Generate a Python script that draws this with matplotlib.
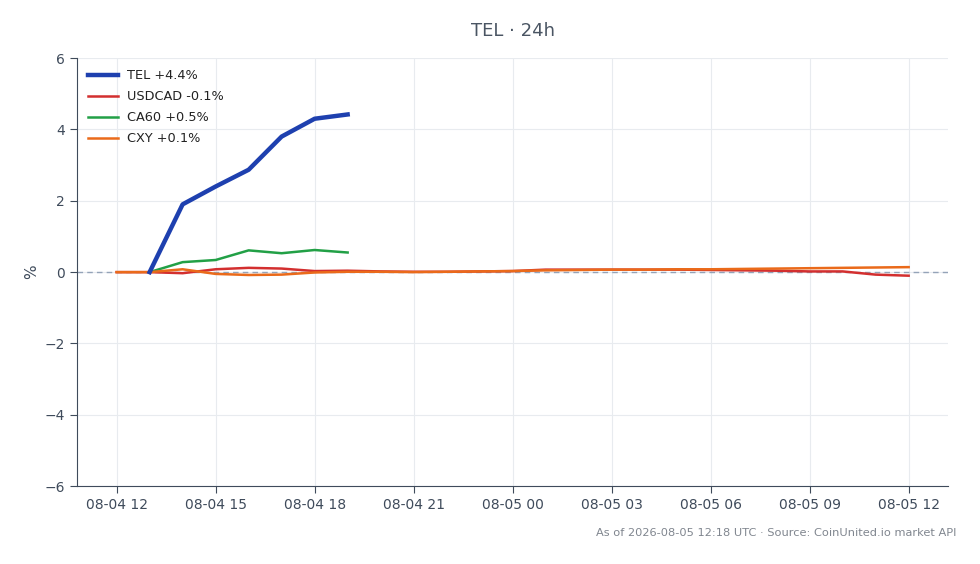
import numpy as np
import pandas as pd
import matplotlib
matplotlib.use('Agg')
import matplotlib.pyplot as plt
import matplotlib.dates as mdates

# hourly timestamps
hours = pd.date_range('2026-08-04 12:00', '2026-08-05 12:00', freq='h')
tel_hours = pd.date_range('2026-08-04 13:00', '2026-08-04 19:00', freq='h')

tel = [0.0, 1.9, 2.4, 2.87, 3.8, 4.3, 4.42]
ca60 = [0.0, 0.28, 0.34, 0.61, 0.53, 0.62, 0.55]
usdcad = [0.0, 0.0, -0.03, 0.08, 0.12, 0.10, 0.03, 0.04, 0.02, 0.01, 0.01, 0.02,
          0.03, 0.07, 0.07, 0.07, 0.07, 0.07, 0.06, 0.05, 0.04, 0.02, 0.02, -0.07, -0.10]
cxy = [0.0, 0.0, 0.08, -0.05, -0.08, -0.07, -0.01, 0.01, 0.01, 0.0, 0.01, 0.02,
       0.03, 0.05, 0.06, 0.07, 0.07, 0.08, 0.08, 0.09, 0.10, 0.11, 0.12, 0.13, 0.14]

labels = ['TEL +4.4%', 'USDCAD -0.1%', 'CA60 +0.5%', 'CXY +0.1%']
text_col = '#3f4b5b'

fig = plt.figure(figsize=(9.8, 5.64), dpi=100)
ax = fig.add_axes([0.0786, 0.138, 0.889, 0.759])

ax.axhline(0, color='#94a3b8', lw=1, ls='--', dashes=(4, 3), zorder=1)
ax.plot(tel_hours, tel, color='#1e40af', lw=3.2, label=labels[0], zorder=5)
ax.plot(hours, usdcad, color='#d32f2f', lw=1.8, label=labels[1], zorder=3)
ax.plot(tel_hours, ca60, color='#22a046', lw=1.8, label=labels[2], zorder=3)
ax.plot(hours, cxy, color='#ea6a1a', lw=1.8, label=labels[3], zorder=4)

ax.set_ylim(-6, 6)
ax.set_yticks([-6, -4, -2, 0, 2, 4, 6])
ax.set_yticklabels(['\u22126', '\u22124', '\u22122', '0', '2', '4', '6'])
ax.xaxis.set_major_locator(mdates.HourLocator(byhour=range(0, 24, 3)))
ax.xaxis.set_major_formatter(mdates.DateFormatter('%m-%d %H'))

ax.grid(True, color='#e8ebef', lw=0.8)
ax.set_axisbelow(True)
for s in ['top', 'right']:
    ax.spines[s].set_visible(False)
for s in ['left', 'bottom']:
    ax.spines[s].set_color('#3f4b5b')
ax.tick_params(colors=text_col, labelsize=10, length=5)
ax.set_ylabel('%', color=text_col, fontsize=11)

ax.legend(loc='upper left', frameon=False, fontsize=9.3, handlelength=2.3,
          handletextpad=0.7, labelcolor='#222222', borderaxespad=0.45,
          labelspacing=0.63)

fig.text(0.523, 0.945, 'TEL \u00b7 24h', ha='center', va='center', fontsize=13, color='#4a5563')
fig.text(0.976, 0.055, 'As of 2026-08-05 12:18 UTC \u00b7 Source: CoinUnited.io market API',
         ha='right', va='center', fontsize=8.2, color='#80868f')

fig.savefig('out.png', dpi=100)
